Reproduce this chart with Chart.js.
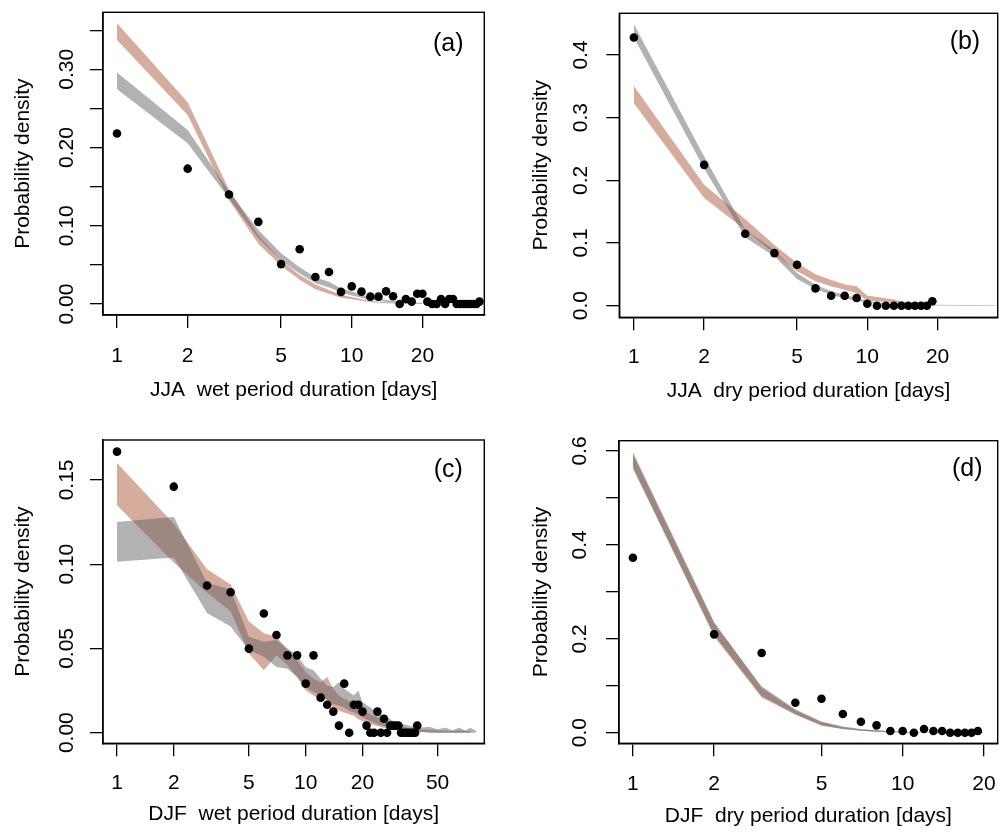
<!DOCTYPE html>
<html>
<head>
<meta charset="utf-8">
<script src="https://cdn.jsdelivr.net/npm/chart.js@4.4.1/dist/chart.umd.min.js"></script>
<style>
html,body{margin:0;padding:0;background:#fff;width:1002px;height:835px;overflow:hidden}
.pan{position:absolute}
canvas{display:block}
</style>
</head>
<body>
<div class="pan" style="left:0;top:0"><canvas id="pa"></canvas></div>
<div class="pan" style="left:501px;top:0"><canvas id="pb"></canvas></div>
<div class="pan" style="left:0;top:418px"><canvas id="pc"></canvas></div>
<div class="pan" style="left:501px;top:418px"><canvas id="pd"></canvas></div>
<script>
// ---------------- (a) JJA wet period ----------------
const jjaWetDays = [1,2,3,4,5,6,7,8,9,10,11,12,13,14,15,16,17,18,19,20,21,22,23,24,25,26,27,28,29,30,31,32,33,34,35];
const jjaWetObs  = [0.218,0.173,0.140,0.105,0.051,0.070,0.0345,0.041,0.0155,0.0225,0.0158,0.0094,0.0094,0.0162,0.0100,0,0.0064,0.003,0.0132,0.0132,0.003,0,0,0.0064,0,0.0064,0.0064,0,0,0,0,0,0,0,0.003];
const jjaWetRedX     = [1,2,3,4,5,6,7,8,9,10,11,12,13,14,15,16,17,18,19,20];
const jjaWetRedUpper = [0.359,0.258,0.146,0.088,0.056,0.037,0.025,0.018,0.0115,0.009,0.006,0.004,0.003,0.0025,0.002,0.0017,0.0014,0.0012,0.001,0.0008];
const jjaWetRedLower = [0.3376,0.2417,0.133,0.077,0.049,0.031,0.019,0.013,0.008,0.006,0.004,0.0025,0.0015,0.001,0.0008,0.0005,0.0004,0.0003,0.0002,0.0001];
const jjaWetGrayX     = [1,2,3,4,5,6,7,8,9,10,11,12,13,14,15,16,17,18,19,20];
const jjaWetGrayUpper = [0.296,0.2225,0.144,0.0946,0.065,0.047,0.034,0.0285,0.020,0.016,0.012,0.009,0.007,0.005,0.004,0.0035,0.003,0.0025,0.002,0.0015];
const jjaWetGrayLower = [0.2745,0.2055,0.135,0.084,0.056,0.039,0.027,0.021,0.015,0.011,0.008,0.005,0.004,0.003,0.002,0.0015,0.001,0.0008,0.0005,0.0003];
const jjaWetXTicks = [1,2,5,10,20];
const jjaWetXLabels = ['1','2','5','10','20'];
const jjaWetYTicks = [0,0.05,0.10,0.15,0.20,0.25,0.30,0.35];
const jjaWetYLabels = ['0.00','','0.10','','0.20','','0.30',''];

// ---------------- (b) JJA dry period ----------------
const jjaDryDays = [1,2,3,4,5,6,7,8,9,10,11,12,13,14,15,16,17,18,19];
const jjaDryObs  = [0.428,0.2247,0.1147,0.0839,0.0653,0.0276,0.0159,0.0159,0.0122,0.003,0,0,0,0,0,0,0,0,0.007];
const jjaDryRedX     = [1,2,3,4,5,6,7,8,9,10,11,12,13,14,15,20,25,30,36];
const jjaDryRedUpper = [0.3506,0.193,0.138,0.097,0.068,0.050,0.041,0.034,0.031,0.016,0.014,0.012,0.010,0.007,0.005,0.0015,0.001,0.001,0.0008];
const jjaDryRedLower = [0.323,0.172,0.121,0.083,0.055,0.039,0.031,0.0255,0.020,0.008,0.007,0.006,0.004,0.003,0.002,0.0003,0,0,0];
const jjaDryGrayX     = [1,2,3,4,5,6,7,8,9,10,11,12,13,14,15,20];
const jjaDryGrayUpper = [0.449,0.238,0.121,0.089,0.052,0.0335,0.023,0.0175,0.012,0.008,0.005,0.0035,0.0025,0.0018,0.0012,0.0004];
const jjaDryGrayLower = [0.428,0.219,0.109,0.079,0.0425,0.0266,0.0175,0.012,0.008,0.005,0.003,0.002,0.0012,0.0008,0.0004,0];
const jjaDryXTicks = [1,2,5,10,20];
const jjaDryXLabels = ['1','2','5','10','20'];
const jjaDryYTicks = [0,0.1,0.2,0.3,0.4];
const jjaDryYLabels = ['0.0','0.1','0.2','0.3','0.4'];

// ---------------- (c) DJF wet period ----------------
const djfWetDays = [1,2,3,4,5,6,7,8,9,10,11,12,13,14,15,16,17,18,19,20,21,22,23,24,25,26,27,28,29,30,31,32,33,34,35,36,37,38,39];
const djfWetObs  = [0.1668,0.146,0.0873,0.0833,0.0499,0.0707,0.058,0.0459,0.0459,0.0291,0.0459,0.0208,0.0166,0.0125,0.0042,0.0291,0,0.0166,0.0166,0.0125,0.0042,0,0,0.0125,0,0.0083,0,0.0042,0.0042,0.0042,0.0042,0,0,0,0,0,0,0,0.0042];
const djfWetRedX     = [1,2,3,4,5,6,7,8,9,10,11,12,13,14,15,16,17,18,19,20,22,24,26,28,30,35,40,45,50,55,60,65,70,75];
const djfWetRedUpper = [0.160,0.124,0.097,0.088,0.066,0.059,0.057,0.049,0.043,0.036,0.032,0.030,0.033,0.026,0.022,0.020,0.019,0.017,0.015,0.013,0.011,0.009,0.007,0.006,0.005,0.003,0.002,0.0018,0.0015,0.0012,0.001,0.0015,0.001,0.001];
const djfWetRedLower = [0.135,0.101,0.083,0.072,0.047,0.037,0.046,0.040,0.033,0.025,0.022,0.020,0.020,0.015,0.013,0.012,0.011,0.010,0.008,0.007,0.005,0.004,0.003,0.002,0.0015,0.001,0.0005,0.0002,0,0,0,0,0,0];
const djfWetGrayX     = [1,2,3,4,5,6,7,8,9,10,11,12,13,14,15,16,17,18,19,20,22,24,26,28,30,33,36,40,45,50,55,60,65,70,75,80];
const djfWetGrayUpper = [0.125,0.128,0.089,0.085,0.057,0.054,0.055,0.050,0.046,0.039,0.037,0.032,0.028,0.027,0.030,0.026,0.024,0.022,0.025,0.018,0.015,0.012,0.010,0.008,0.006,0.005,0.004,0.003,0.0035,0.002,0.003,0.0015,0.003,0.0015,0.003,0.001];
const djfWetGrayLower = [0.1015,0.104,0.071,0.063,0.049,0.045,0.039,0.038,0.033,0.027,0.024,0.022,0.019,0.017,0.016,0.015,0.013,0.012,0.011,0.009,0.007,0.005,0.004,0.003,0.002,0.0015,0.001,0.0005,0,0,0,0,0,0,0,0];
const djfWetXTicks = [1,2,5,10,20,50];
const djfWetXLabels = ['1','2','5','10','20','50'];
const djfWetYTicks = [0,0.05,0.10,0.15];
const djfWetYLabels = ['0.00','0.05','0.10','0.15'];

// ---------------- (d) DJF dry period ----------------
const djfDryDays = [1,2,3,4,5,6,7,8,9,10,11,12,13,14,15,16,17,18,19];
const djfDryObs  = [0.3728,0.2095,0.1697,0.0639,0.0724,0.0398,0.0234,0.0156,0.0036,0.0036,0,0.0078,0.0036,0.0036,0,0,0,0,0.0036];
const djfDryRedX     = [1,2,3,4,5,6,7,8,9,10,11,12,15,20];
const djfDryRedUpper = [0.598,0.236,0.095,0.048,0.022,0.012,0.007,0.005,0.003,0.002,0.0015,0.001,0.0005,0.0002];
const djfDryRedLower = [0.566,0.205,0.075,0.038,0.015,0.008,0.004,0.002,0.001,0.0005,0.0003,0.0002,0,0];
const djfDryGrayX     = [1,2,3,4,5,6,7,8,9,10,11,12,15,20];
const djfDryGrayUpper = [0.593,0.233,0.099,0.050,0.024,0.013,0.008,0.005,0.003,0.002,0.0015,0.001,0.0005,0.0002];
const djfDryGrayLower = [0.562,0.208,0.078,0.040,0.016,0.008,0.004,0.002,0.001,0.0005,0.0003,0.0002,0,0];
const djfDryXTicks = [1,2,5,10,20];
const djfDryXLabels = ['1','2','5','10','20'];
const djfDryYTicks = [0,0.1,0.2,0.3,0.4,0.5,0.6];
const djfDryYLabels = ['0.0','','0.2','','0.4','','0.6'];

const yTitle = 'Probability density';

// ---------------- drawing ----------------
const FAMILY = "'Liberation Sans', Arial, Helvetica, sans-serif";
const FSIZE = 21;
const TAGSIZE = 25;
Chart.defaults.font.family = FAMILY;
Chart.defaults.font.size = FSIZE;
Chart.defaults.color = '#000';

const RED = 'rgba(173,89,59,0.5)';
const GRAY = 'rgba(101,101,101,0.5)';
const TICK = 13;

const mctx = document.createElement('canvas').getContext('2d');
mctx.font = FSIZE + 'px ' + FAMILY;
function textW(s){ return mctx.measureText(s).width; }

function pts(xs, ys){ return xs.map((x,i)=>({x:x, y:ys[i]})); }

const boxPlugin = {
  id:'panelbox',
  afterDatasetsDraw(chart, args, o){
    const ctx = chart.ctx, a = chart.chartArea;
    ctx.save();
    ctx.strokeStyle = '#000';
    ctx.lineWidth = 1.4;
    ctx.strokeRect(a.left, a.top, a.right-a.left, a.bottom-a.top);
    ctx.fillStyle = '#000';
    ctx.font = TAGSIZE + 'px ' + FAMILY;
    ctx.textAlign = 'right';
    ctx.textBaseline = 'middle';
    ctx.fillText(o.text, a.right - o.dx, a.top + o.dy);
    ctx.restore();
  }
};

function band(xs, up, lo, color){
  return [
    {data: pts(xs, up), borderWidth:0, borderColor:'transparent', pointRadius:0, fill:'+1', backgroundColor:color, tension:0},
    {data: pts(xs, lo), borderWidth:0, borderColor:'transparent', pointRadius:0, fill:false, tension:0}
  ];
}

function makePanel(id, c){
  const cv = document.getElementById(id);
  cv.width = c.w; cv.height = c.h;
  cv.style.width = c.w + 'px'; cv.style.height = c.h + 'px';
  const widest = Math.max(...c.yLabels.map(textW));
  const yPad = c.yLabelOffset - TICK - widest/2;
  const gridOpt = {drawOnChartArea:false, drawTicks:true, tickLength:TICK, tickColor:'#000', tickWidth:1.3, color:'#000', lineWidth:1.3};
  const borderOpt = {display:true, color:'#000', width:1.4};
  new Chart(cv, {
    type:'line',
    data:{ datasets: [
      {data: pts(c.days, c.obs), showLine:false, pointRadius:4.3, pointHoverRadius:4.3, pointBackgroundColor:'#000', pointBorderWidth:0, borderColor:'#000', borderWidth:0},
      ...band(c.grayX, c.grayUp, c.grayLo, GRAY),
      ...band(c.redX, c.redUp, c.redLo, RED)
    ]},
    options:{
      responsive:false, animation:false, events:[],
      layout:{padding:{left:0, top:c.padTop, right:c.padRight, bottom:0}},
      plugins:{ legend:{display:false}, tooltip:{enabled:false}, panelbox:{text:c.tag, dx:c.tagDx, dy:c.tagDy} },
      scales:{
        x:{
          type:'logarithmic', position:'bottom', min:c.xMin, max:c.xMax,
          afterBuildTicks: s => { s.ticks = c.xTicks.map(v=>({value:v})); },
          afterFit: s => { s.height = c.xH; s.paddingLeft = 0; s.paddingRight = 0; },
          ticks:{autoSkip:false, minRotation:0, maxRotation:0, padding:c.xTickPad, callback:(v,i)=>c.xLabels[i]},
          grid:gridOpt, border:borderOpt,
          title:{display:true, text:c.xTitle, padding:{top:0, bottom:c.xTitlePad}}
        },
        y:{
          type:'linear', position:'left', min:c.yMin, max:c.yMax,
          afterBuildTicks: s => { s.ticks = c.yTicks.map(v=>({value:v})); },
          afterFit: s => { s.width = c.yW; s.paddingTop = 0; s.paddingBottom = 0; },
          ticks:{autoSkip:false, minRotation:90, maxRotation:90, crossAlign:'center', padding:yPad, callback:(v,i)=>c.yLabels[i]},
          grid:gridOpt, border:borderOpt,
          title:{display:true, text:yTitle, padding:{top:c.yTitlePad, bottom:0}}
        }
      }
    },
    plugins:[boxPlugin]
  });
}

makePanel('pa', {
  w:501, h:418, yW:103, padTop:12.3, padRight:16.7, xH:103,
  xMin:0.8716, xMax:36.7, yMin:-0.01406, yMax:0.3729,
  days:jjaWetDays, obs:jjaWetObs,
  redX:jjaWetRedX, redUp:jjaWetRedUpper, redLo:jjaWetRedLower,
  grayX:jjaWetGrayX, grayUp:jjaWetGrayUpper, grayLo:jjaWetGrayLower,
  xTicks:jjaWetXTicks, xLabels:jjaWetXLabels, yTicks:jjaWetYTicks, yLabels:jjaWetYLabels,
  xTitle:'JJA  wet period duration [days]', tag:'(a)', tagDx:20.8, tagDy:31.4,
  xTickPad:15.4, xTitlePad:14.9, yTitlePad:10.4, yLabelOffset:36
});
makePanel('pb', {
  w:501, h:418, yW:118.3, padTop:13.3, padRight:2, xH:100.7,
  xMin:0.866, xMax:36.2, yMin:-0.0185, yMax:0.4665,
  days:jjaDryDays, obs:jjaDryObs,
  redX:jjaDryRedX, redUp:jjaDryRedUpper, redLo:jjaDryRedLower,
  grayX:jjaDryGrayX, grayUp:jjaDryGrayUpper, grayLo:jjaDryGrayLower,
  xTicks:jjaDryXTicks, xLabels:jjaDryXLabels, yTicks:jjaDryYTicks, yLabels:jjaDryYLabels,
  xTitle:'JJA  dry period duration [days]', tag:'(b)', tagDx:17.5, tagDy:28.8,
  xTickPad:14.1, xTitlePad:14.6, yTitlePad:27.4, yLabelOffset:38.3
});
makePanel('pc', {
  w:501, h:417, yW:103, padTop:22, padRight:16.7, xH:91.7,
  xMin:0.843, xMax:88.4, yMin:-0.0063, yMax:0.1737,
  days:djfWetDays, obs:djfWetObs,
  redX:djfWetRedX, redUp:djfWetRedUpper, redLo:djfWetRedLower,
  grayX:djfWetGrayX, grayUp:djfWetGrayUpper, grayLo:djfWetGrayLower,
  xTicks:djfWetXTicks, xLabels:djfWetXLabels, yTicks:djfWetYTicks, yLabels:djfWetYLabels,
  xTitle:'DJF  wet period duration [days]', tag:'(c)', tagDx:21.5, tagDy:30.4,
  xTickPad:14.4, xTitlePad:8.4, yTitlePad:10.4, yLabelOffset:36
});
makePanel('pd', {
  w:501, h:417, yW:118, padTop:22.7, padRight:3, xH:91.7,
  xMin:0.888, xMax:22.5, yMin:-0.0226, yMax:0.622,
  days:djfDryDays, obs:djfDryObs,
  redX:djfDryRedX, redUp:djfDryRedUpper, redLo:djfDryRedLower,
  grayX:djfDryGrayX, grayUp:djfDryGrayUpper, grayLo:djfDryGrayLower,
  xTicks:djfDryXTicks, xLabels:djfDryXLabels, yTicks:djfDryYTicks, yLabels:djfDryYLabels,
  xTitle:'DJF  dry period duration [days]', tag:'(d)', tagDx:15.2, tagDy:28.9,
  xTickPad:15.1, xTitlePad:6.6, yTitlePad:27.2, yLabelOffset:39
});
</script>
</body>
</html>
